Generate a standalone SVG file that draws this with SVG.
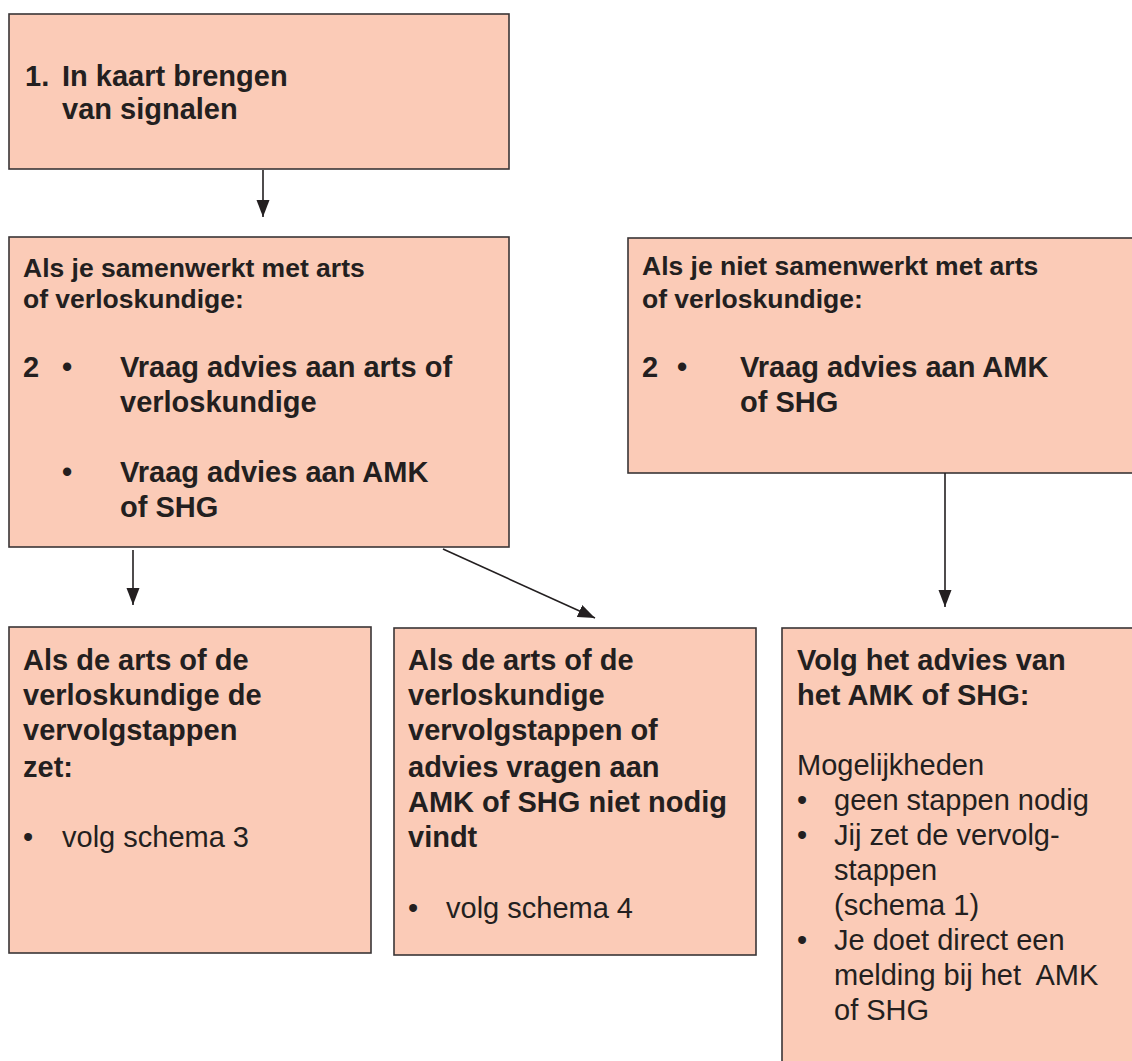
<svg xmlns="http://www.w3.org/2000/svg" width="1132" height="1061" viewBox="0 0 1132 1061">
<style>
.box{fill:#fbcbb7;stroke:#3a3536;stroke-width:1.6}
text{font-family:"Liberation Sans",Arial,sans-serif;fill:#231f20;font-size:29px}
.b{font-weight:bold}
.h{font-weight:bold;font-size:26.5px}
.c{stroke:#231f20;stroke-width:1.6;fill:none}
</style>
<defs>
<marker id="ah" markerUnits="userSpaceOnUse" markerWidth="18" markerHeight="14" refX="17" refY="6.5" orient="auto">
<path d="M0,0 L17,6.5 L0,13 z" fill="#231f20"/>
</marker>
</defs>
<rect width="1132" height="1061" fill="#ffffff"/>
<g id="node1">
<rect class="box" x="9" y="14" width="500" height="155"/>
<text class="b" x="25" y="86">1.</text>
<text class="b" x="62" y="86">In kaart brengen</text>
<text class="b" x="62" y="119">van signalen</text>
</g>
<g id="node2">
<rect class="box" x="9" y="237" width="500" height="310"/>
<text class="h" x="23" y="277">Als je samenwerkt met arts</text>
<text class="h" x="23" y="308">of verloskundige:</text>
<text class="b" x="23" y="377">2</text>
<text class="b" x="62" y="377">•</text>
<text class="b" x="120" y="377">Vraag advies aan arts of</text>
<text class="b" x="120" y="412">verloskundige</text>
<text class="b" x="62" y="482">•</text>
<text class="b" x="120" y="482">Vraag advies aan AMK</text>
<text class="b" x="120" y="517">of SHG</text>
</g>
<g id="node3">
<rect class="box" x="628" y="238" width="506" height="235"/>
<text class="h" x="642" y="275">Als je niet samenwerkt met arts</text>
<text class="h" x="642" y="308">of verloskundige:</text>
<text class="b" x="642" y="377">2</text>
<text class="b" x="677" y="377">•</text>
<text class="b" x="740" y="377">Vraag advies aan AMK</text>
<text class="b" x="740" y="412">of SHG</text>
</g>
<g id="node4">
<rect class="box" x="9" y="627" width="362" height="326"/>
<text class="b" x="23" y="670">Als de arts of de</text>
<text class="b" x="23" y="705">verloskundige de</text>
<text class="b" x="23" y="740">vervolgstappen</text>
<text class="b" x="23" y="777">zet:</text>
<text x="23" y="847">•</text>
<text x="62" y="847">volg schema 3</text>
</g>
<g id="node5">
<rect class="box" x="394" y="628" width="362" height="327"/>
<text class="b" x="408" y="670">Als de arts of de</text>
<text class="b" x="408" y="705">verloskundige</text>
<text class="b" x="408" y="740">vervolgstappen of</text>
<text class="b" x="408" y="777">advies vragen aan</text>
<text class="b" x="408" y="812">AMK of SHG niet nodig</text>
<text class="b" x="408" y="847">vindt</text>
<text x="408" y="918">•</text>
<text x="446" y="918">volg schema 4</text>
</g>
<g id="node6">
<rect class="box" x="782" y="628" width="352" height="440"/>
<text class="b" x="797" y="670">Volg het advies van</text>
<text class="b" x="797" y="705">het AMK of SHG:</text>
<text x="797" y="775">Mogelijkheden</text>
<text x="797" y="810">•</text>
<text x="834" y="810">geen stappen nodig</text>
<text x="797" y="845">•</text>
<text x="834" y="845">Jij zet de vervolg-</text>
<text x="834" y="880">stappen</text>
<text x="834" y="915">(schema 1)</text>
<text x="797" y="950">•</text>
<text x="834" y="950">Je doet direct een</text>
<text x="834" y="985" xml:space="preserve">melding bij het  AMK</text>
<text x="834" y="1020">of SHG</text>
</g>
<g id="connectors">
<line class="c" x1="263" y1="170" x2="263" y2="217" marker-end="url(#ah)"/>
<line class="c" x1="133" y1="550" x2="133" y2="605" marker-end="url(#ah)"/>
<line class="c" x1="443" y1="549" x2="595" y2="618" marker-end="url(#ah)"/>
<line class="c" x1="945" y1="473" x2="945" y2="607" marker-end="url(#ah)"/>
</g>
</svg>
